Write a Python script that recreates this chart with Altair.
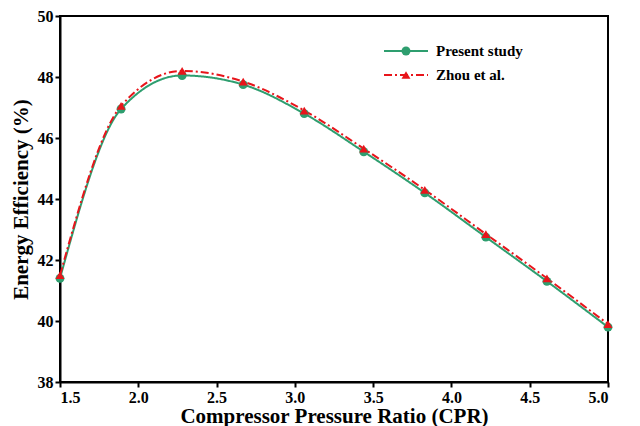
import altair as alt
import pandas as pd

cpr = [1.5, 1.89, 2.28, 2.67, 3.06, 3.44, 3.83, 4.22, 4.61, 5.0]
present = [41.4, 46.95, 48.05, 47.75, 46.8, 45.55, 44.2, 42.75, 41.3, 39.8]
zhou = [41.5, 47.05, 48.2, 47.85, 46.9, 45.65, 44.3, 42.85, 41.4, 39.9]
series = ["Present study", "Zhou et al."]
colors = ["#2e9e6f", "#e8151b"]

df = pd.DataFrame({
    "cpr": cpr * 2,
    "eff": present + zhou,
    "series": [series[0]] * len(cpr) + [series[1]] * len(cpr),
})

FONT = "Liberation Serif"
x = alt.X("cpr:Q", scale=alt.Scale(domain=[1.5, 5.0], nice=False),
          axis=alt.Axis(values=[1.5, 2.0, 2.5, 3.0, 3.5, 4.0, 4.5, 5.0], format=".1f",
                        title="Compressor Pressure Ratio (CPR)", grid=False))
y = alt.Y("eff:Q", scale=alt.Scale(domain=[38, 50], nice=False),
          axis=alt.Axis(values=[38, 40, 42, 44, 46, 48, 50], title="Energy Efficiency (%)", grid=False))
color = alt.Color("series:N", scale=alt.Scale(domain=series, range=colors), legend=None)

base = alt.Chart(df)
lines = base.mark_line(interpolate="monotone", strokeWidth=2).encode(
    x=x, y=y, color=color,
    strokeDash=alt.StrokeDash("series:N", scale=alt.Scale(domain=series, range=[[1, 0], [8, 3, 2, 3]]), legend=None),
)
points = base.mark_point(filled=True, size=80, opacity=1).encode(
    x=x, y=y, color=color,
    shape=alt.Shape("series:N", scale=alt.Scale(domain=series, range=["circle", "triangle-up"]), legend=None),
)

# legend, drawn by hand
leg = pd.DataFrame({"series": series, "row": [0, 1]})
lx0, lx1, ly0, dy = 324, 368, 35, 24
leg_line0 = alt.Chart(leg.iloc[[0]]).mark_rule(strokeWidth=2, color=colors[0]).encode(
    x=alt.value(lx0), x2=alt.value(lx1), y=alt.value(ly0))
leg_line1 = alt.Chart(leg.iloc[[1]]).mark_rule(strokeWidth=2, color=colors[1], strokeDash=[8, 3, 2, 3]).encode(
    x=alt.value(lx0), x2=alt.value(lx1), y=alt.value(ly0 + dy))
leg_pt0 = alt.Chart(leg.iloc[[0]]).mark_point(filled=True, size=80, shape="circle", color=colors[0], opacity=1).encode(
    x=alt.value((lx0 + lx1) / 2), y=alt.value(ly0))
leg_pt1 = alt.Chart(leg.iloc[[1]]).mark_point(filled=True, size=80, shape="triangle-up", color=colors[1], opacity=1).encode(
    x=alt.value((lx0 + lx1) / 2), y=alt.value(ly0 + dy))
leg_txt0 = alt.Chart(leg.iloc[[0]]).mark_text(align="left", font=FONT, fontWeight="bold", fontSize=15).encode(
    x=alt.value(lx1 + 8), y=alt.value(ly0), text="series:N")
leg_txt1 = alt.Chart(leg.iloc[[1]]).mark_text(align="left", font=FONT, fontWeight="bold", fontSize=15).encode(
    x=alt.value(lx1 + 8), y=alt.value(ly0 + dy), text="series:N")

chart = alt.layer(lines, points, leg_line0, leg_line1, leg_pt0, leg_pt1, leg_txt0, leg_txt1).properties(
    width=548, height=366, padding={"left": 2, "top": 0, "right": 6, "bottom": 0}
).configure_view(stroke="black", strokeWidth=2).configure_axis(
    labelFont=FONT, titleFont=FONT, labelFontSize=16, labelFontWeight="bold",
    titleFontSize=21, titleFontWeight="bold", labelColor="black", titleColor="black",
    domainColor="black", tickColor="black", domainWidth=2, tickWidth=2, tickSize=5,
    labelPadding=2,
).configure_axisX(titlePadding=0).configure_axisY(titlePadding=6)

chart.save("out.html", embed_options={"renderer": "svg", "actions": False})
